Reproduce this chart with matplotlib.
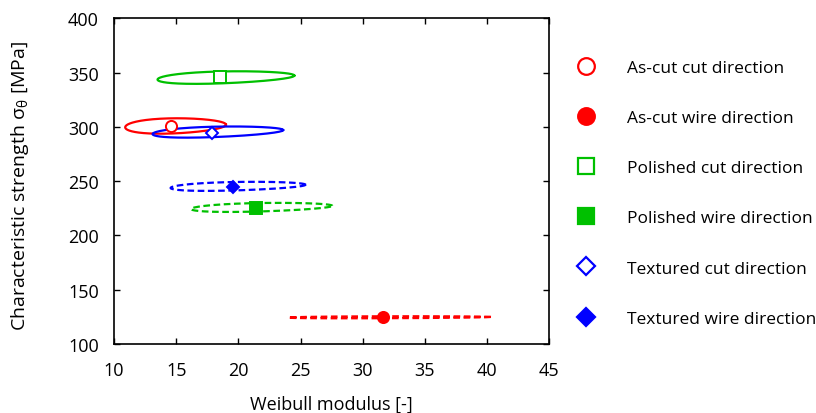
import numpy as np
import matplotlib
matplotlib.use("Agg")
import matplotlib.pyplot as plt
from matplotlib.lines import Line2D

plt.rcParams['font.family'] = ['Open Sans', 'DejaVu Sans']

# series labels, colours, markers
labels = ["As-cut cut direction", "As-cut wire direction",
          "Polished cut direction", "Polished wire direction",
          "Textured cut direction", "Textured wire direction"]
colors = ["#ff0000", "#ff0000", "#00c000", "#00c000", "#0000ff", "#0000ff"]
markers = ["o", "o", "s", "s", "D", "D"]
filled = [False, True, False, True, False, True]
styles = ["-", "--", "-", "--", "-", "--"]

# estimated Weibull parameters (marker points)
m_est = [14.6, 31.65, 18.5, 21.4, 17.9, 19.55]
s_est = [301.0, 124.6, 345.9, 225.0, 294.2, 244.3]

# confidence contours: m range, centre strength, half thickness, tip offset
m_lo = [10.9, 24.0, 13.5, 16.2, 13.1, 14.55]
m_hi = [19.0, 40.3, 24.5, 27.55, 23.6, 25.4]
s_mid = [300.8, 124.6, 345.4, 225.8, 295.2, 245.2]
s_half = [7.0, 0.9, 5.5, 3.9, 4.8, 3.9]
s_tip = [1.2, 0.3, 1.85, 1.5, 1.85, 1.5]

fig = plt.figure(figsize=(8.16, 4.14), dpi=100)
ax = fig.add_axes([0.1397, 0.1667, 0.5335, 0.7867])

t = np.linspace(0, 2 * np.pi, 300)
for i in range(len(labels)):
    lc = np.log(np.sqrt(m_lo[i] * m_hi[i]))
    la = np.log(m_hi[i] / m_lo[i]) / 2
    xs = np.exp(lc + la * np.cos(t))
    ys = s_mid[i] + s_half[i] * np.sin(t) + s_tip[i] * np.cos(t)
    if styles[i] == "--":
        ax.plot(xs, ys, color=colors[i], lw=1.6, dashes=(3, 1.6))
    else:
        ax.plot(xs, ys, color=colors[i], lw=1.6)

for i in range(len(labels)):
    fc = colors[i] if filled[i] else "white"
    ms = 8 if markers[i] != "D" else 6.5
    ax.plot(m_est[i], s_est[i], marker=markers[i], ms=ms, mfc=fc,
            mec=colors[i], mew=1.4, ls="none", zorder=5)

ax.set_xlim(10, 45)
ax.set_ylim(100, 400)
ax.set_xticks(np.arange(10, 46, 5))
ax.set_yticks(np.arange(100, 401, 50))
ax.tick_params(direction="in", top=True, right=True, length=4, width=1,
               labelsize=13, colors="black")
ax.tick_params(axis="y", pad=11)
ax.tick_params(axis="x", pad=12)
for sp in ax.spines.values():
    sp.set_linewidth(1.2)

ax.set_xlabel("Weibull modulus [-]", fontsize=13)
ax.set_ylabel(r"Characteristic strength $\mathregular{\sigma_{\theta}}$ [MPa]", fontsize=14)
ax.xaxis.set_label_coords(0.5, -0.155)
ax.yaxis.set_label_coords(-0.19, 0.49)

handles = []
for i in range(len(labels)):
    fc = colors[i] if filled[i] else "white"
    ms = 12 if markers[i] != "D" else 9.5
    handles.append(Line2D([], [], marker=markers[i], ms=ms, mfc=fc,
                          mec=colors[i], mew=1.6, ls="none"))
fig.legend(handles, labels, loc="upper left",
           bbox_to_anchor=(577 / 816, 1 - 61 / 414), frameon=False,
           fontsize=12.5, handlelength=1.04, handletextpad=1.83,
           borderpad=0, borderaxespad=0, labelspacing=1.955)

fig.savefig("out.png", dpi=100)
